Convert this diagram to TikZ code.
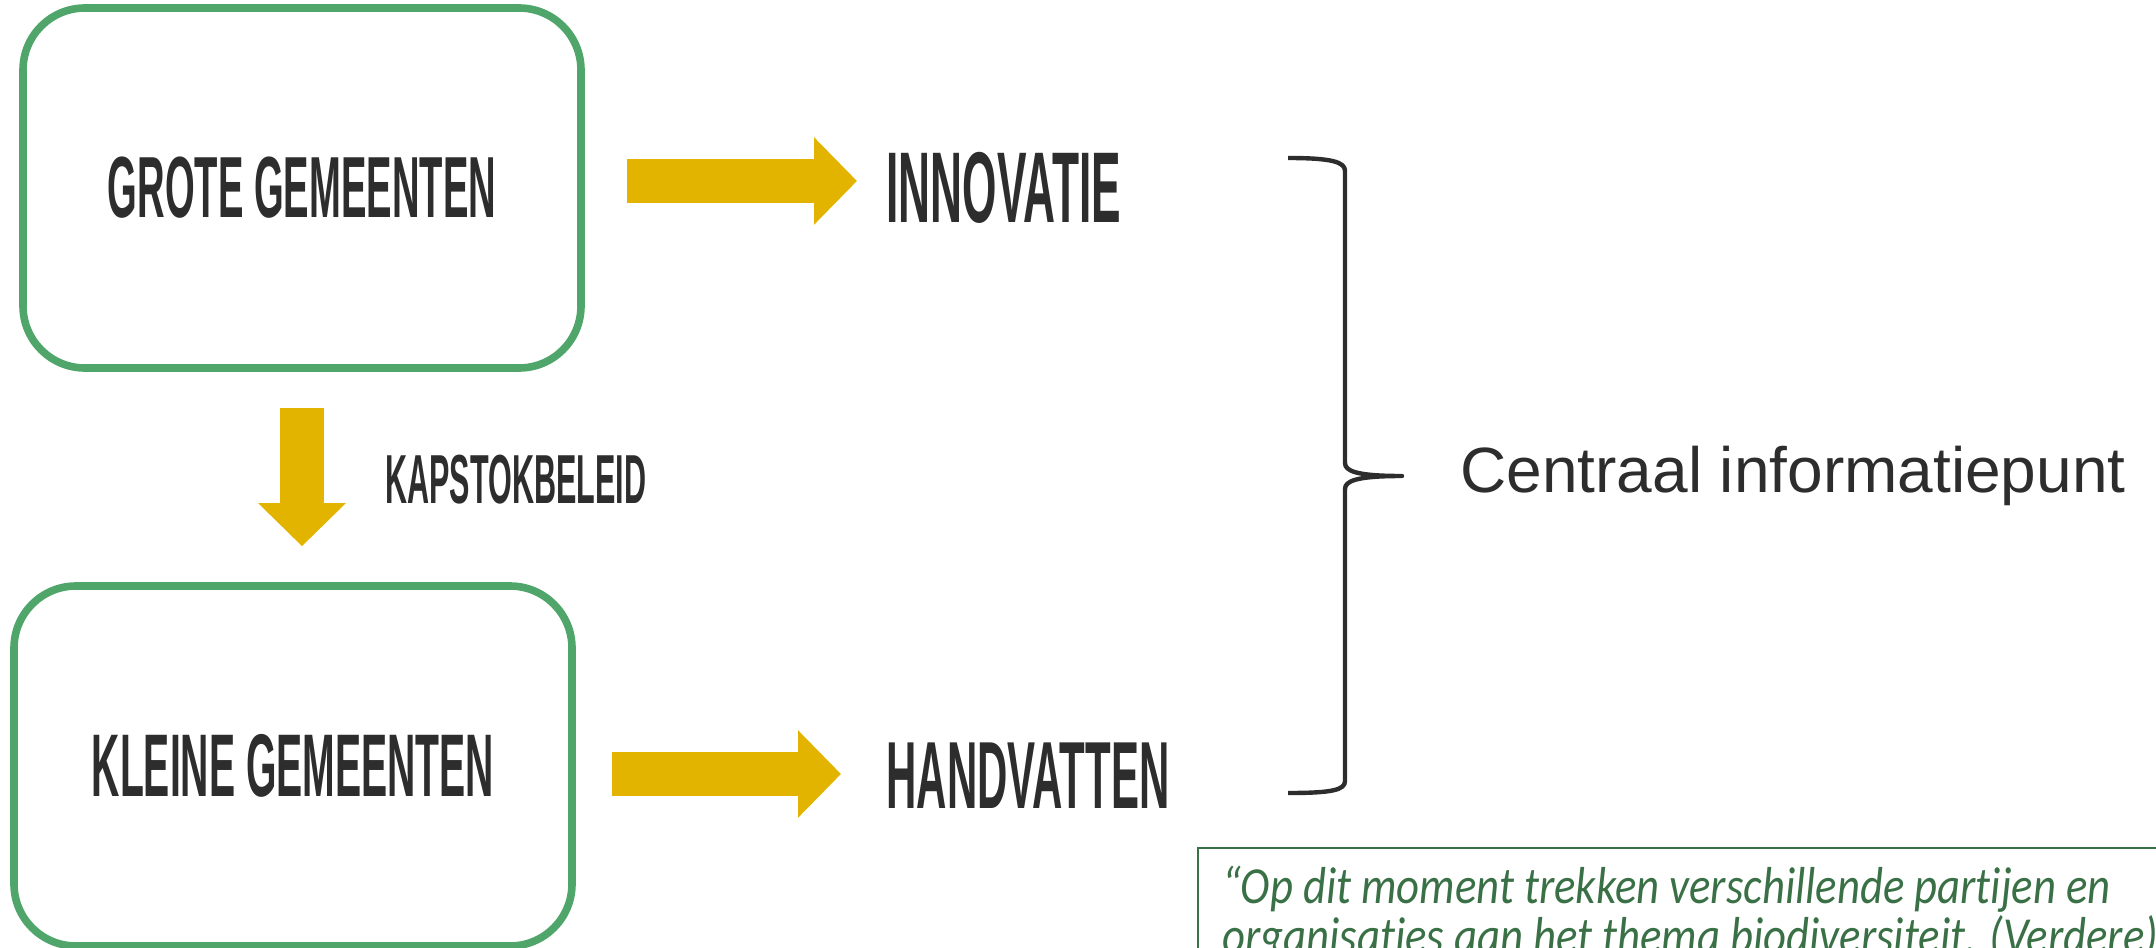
\documentclass[tikz,border=0pt]{standalone}
\usepackage{fontspec}
\usetikzlibrary{arrows.meta}
\setmainfont{Liberation Sans}
\newfontfamily\handfont[FakeStretch=0.44]{Liberation Sans}
\newfontfamily\quotefont[FakeStretch=0.86, Ligatures=NoCommon]{Carlito}

\definecolor{boxgreen}{RGB}{80,166,106}
\definecolor{arrowgold}{RGB}{226,180,0}
\definecolor{quotegreen}{RGB}{58,112,70}
\definecolor{inkgrey}{RGB}{45,45,45}

\newcommand{\handsize}[1]{\handfont\bfseries\fontsize{#1}{#1}\selectfont}

\tikzset{
    gemeente/.style={draw=boxgreen, line width=3.8pt, rounded corners=31pt,
        minimum width=279pt, minimum height=180pt, text=inkgrey},
    handlabel/.style={text=inkgrey, inner sep=0pt, anchor=west},
    citaatregel/.style={anchor=base west, inner sep=0pt, text=quotegreen,
        font=\quotefont\itshape\fontsize{26}{26}\selectfont},
    blokpijl/.style={draw=arrowgold, line width=22pt, line cap=butt,
        -{Triangle[length=21.5pt, width=42.5pt]}, arrowgold}
}

\begin{document}
\begin{tikzpicture}[x=0.5pt, y=-0.5pt]
        \useasboundingbox (0,0) rectangle (2156,947);
        \clip (0,0) rectangle (2156,947);
        \node[gemeente, font=\handsize{43.4}] (grote)  at (302, 188) {GROTE GEMEENTEN};
        \node[gemeente, font=\handsize{44.5}] (kleine) at (293, 766) {KLEINE GEMEENTEN};
        \node[handlabel, font=\handsize{50.3}] (innovatie)  at (886, 188) {INNOVATIE};
        \node[handlabel, font=\handsize{47.7}] (handvatten) at (886, 776) {HANDVATTEN};
        \node[handlabel, font=\handsize{34.7}] (kapstok) at (385, 480) {KAPSTOKBELEID};
        \node[text=inkgrey, font=\fontsize{32}{32}\selectfont] (centraal) at (1793, 476)
            {Centraal informatiepunt};
        % pijlen
        \coordinate (g1) at (627, 181);
        \coordinate (g2) at (857, 181);
        \coordinate (k1) at (612, 774);
        \coordinate (k2) at (841, 774);
        \draw[blokpijl] (g1) -- (g2);
        \draw[blokpijl] (k1) -- (k2);
        \draw[blokpijl, shorten <=18pt, shorten >=18pt] (grote.south) -- (grote.south |- kleine.north);
        % accolade
        \draw[inkgrey, line width=2.2pt, line join=round]
            (1288, 158) .. controls (1332, 158) and (1345, 162) .. (1345, 171)
            -- (1345, 463) .. controls (1345, 471) and (1356, 476) .. (1402, 476)
            .. controls (1356, 476) and (1345, 481) .. (1345, 489)
            -- (1345, 781) .. controls (1345, 790) and (1332, 793) .. (1288, 793);
        % citaat
        \draw[quotegreen, line width=0.8pt] (1198, 848) rectangle (2200, 1000);
        \node[citaatregel] (citaat1) at (1222, 903)
            {“Op dit moment trekken verschillende partijen en};
        \node[citaatregel] (citaat2) at (1222, 953)
            {organisaties aan het thema biodiversiteit. (Verdere)};
\end{tikzpicture}
\end{document}
